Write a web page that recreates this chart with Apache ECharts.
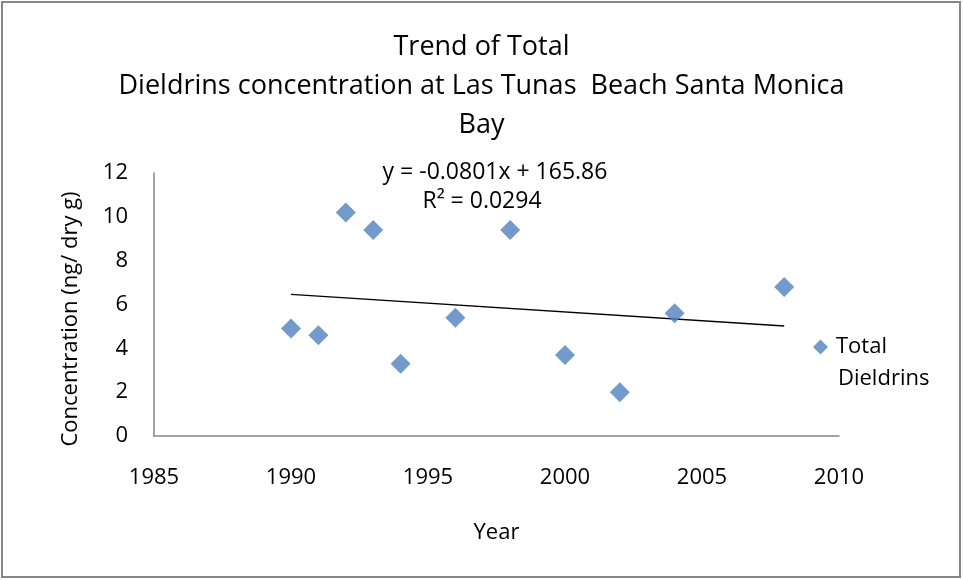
<!DOCTYPE html>
<html>
<head>
<meta charset="utf-8">
<script src="https://cdn.jsdelivr.net/npm/echarts@6/dist/echarts.min.js"></script>
<style>
  html, body { margin: 0; padding: 0; background: #fff; }
  #main { width: 963px; height: 580px; }
</style>
</head>
<body>
<div id="main"></div>
<script>
// data
var years = [1990, 1991, 1992, 1993, 1994, 1996, 1998, 2000, 2002, 2004, 2008];
var dieldrins = [4.9, 4.6, 10.2, 9.4, 3.3, 5.4, 9.4, 3.7, 2.0, 5.6, 6.8];
// linear trend shown on the chart: y = -0.0801x + 165.86
var slope = -0.0801, intercept = 165.86;
var trendYears = [1990, 2008];

var font = 'Open Sans';

var points = [];
for (var i = 0; i < years.length; i++) {
    points.push([years[i], dieldrins[i]]);
}
var trend = [];
for (var j = 0; j < trendYears.length; j++) {
    trend.push([trendYears[j], slope * trendYears[j] + intercept]);
}

var myChart = echarts.init(document.getElementById('main'));

option = {
    backgroundColor: '#fff',
    animation: false,
    title: {
        text: 'Trend of Total\nDieldrins concentration at Las Tunas  Beach Santa Monica\nBay',
        left: 'center',
        top: 23,
        textStyle: {
            fontFamily: font,
            fontSize: 27,
            fontWeight: 'normal',
            color: '#000',
            lineHeight: 39
        }
    },
    legend: {
        data: [{ name: 'Total Dieldrins', icon: 'diamond' }],
        left: 813,
        top: 336,
        padding: 0,
        itemWidth: 15,
        itemHeight: 15,
        formatter: function () { return 'Total'; },
        textStyle: { fontFamily: font, fontSize: 22, color: '#000', padding: [0, 0, 0, 3] }
    },
    grid: {
        left: 154,
        right: 124,
        top: 173,
        bottom: 144
    },
    xAxis: {
        type: 'value',
        min: 1985,
        max: 2010,
        interval: 5,
        name: 'Year',
        nameLocation: 'middle',
        nameGap: 86,
        nameTextStyle: { fontFamily: font, fontSize: 22, color: '#000' },
        axisLine: { lineStyle: { color: '#868686', width: 1.5 } },
        axisTick: { show: false },
        splitLine: { show: false },
        axisLabel: {
            margin: 31,
            fontFamily: font,
            fontSize: 22,
            color: '#000',
            formatter: function (v) { return String(v); }
        }
    },
    yAxis: {
        type: 'value',
        min: 0,
        max: 12,
        interval: 2,
        axisLine: { show: true, lineStyle: { color: '#868686', width: 1.5 } },
        axisTick: { show: false },
        splitLine: { show: false },
        axisLabel: {
            margin: 26,
            fontFamily: font,
            fontSize: 22,
            color: '#000'
        }
    },
    graphic: [
        {
            type: 'rect',
            shape: { x: 2, y: 2, width: 958, height: 575 },
            style: { fill: 'none', stroke: '#868686', lineWidth: 2 }
        },
        {
            // y axis title, placed a little below the axis centre as in the original
            type: 'text',
            x: 71,
            y: 319,
            rotation: Math.PI / 2,
            style: {
                text: 'Concentration (ng/ dry g)',
                fontFamily: font,
                fontSize: 22,
                fill: '#000',
                align: 'center',
                verticalAlign: 'middle'
            }
        },
        {
            type: 'text',
            x: 838,
            y: 379,
            style: {
                text: 'Dieldrins',
                fontFamily: font,
                fontSize: 22,
                fill: '#000',
                align: 'left',
                verticalAlign: 'middle'
            }
        },
        {
            type: 'text',
            x: 495,
            y: 172,
            style: {
                text: 'y = -0.0801x + 165.86',
                fontFamily: font,
                fontSize: 23,
                fill: '#000',
                align: 'center',
                verticalAlign: 'middle'
            }
        },
        {
            type: 'text',
            x: 482,
            y: 201,
            style: {
                text: 'R² = 0.0294',
                fontFamily: font,
                fontSize: 23,
                fill: '#000',
                align: 'center',
                verticalAlign: 'middle'
            }
        }
    ],
    series: [
        {
            name: 'Linear (Total Dieldrins)',
            type: 'line',
            data: trend,
            showSymbol: false,
            lineStyle: { color: '#000', width: 1.3 },
            z: 1
        },
        {
            name: 'Total Dieldrins',
            type: 'scatter',
            data: points,
            symbol: 'diamond',
            symbolSize: 20,
            itemStyle: { color: '#4f81bd' },
            z: 2
        }
    ]
};

myChart.setOption(option);
</script>
</body>
</html>
